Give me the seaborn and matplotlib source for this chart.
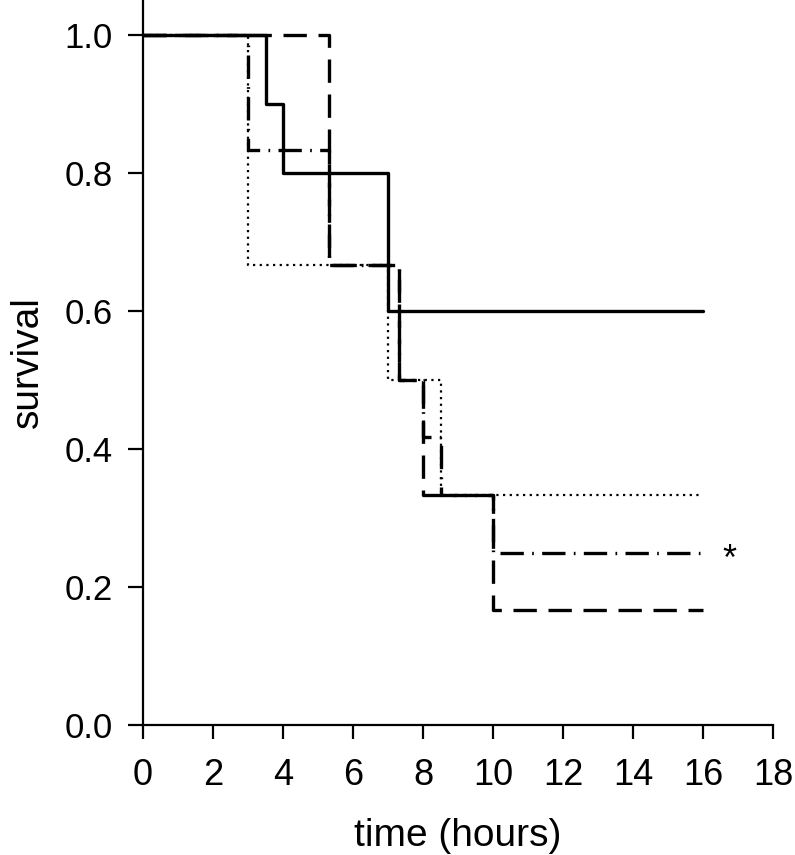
import matplotlib
matplotlib.use("Agg")
import matplotlib.pyplot as plt
import seaborn as sns

# survival step curves (time in hours, survival fraction)
solid_t = [0, 3.5, 4, 7, 16]
solid_s = [1.0, 0.9, 0.8, 0.6, 0.6]
longdash_t = [0, 5.3, 7.3, 8, 10, 16]
longdash_s = [1.0, 0.667, 0.5, 0.333, 0.167, 0.167]
dashdot_t = [0, 3, 5.3, 7.3, 8, 8.5, 10, 16]
dashdot_s = [1.0, 0.833, 0.667, 0.5, 0.417, 0.333, 0.25, 0.25]
dotted_t = [0, 3, 7, 8.5, 16]
dotted_s = [1.0, 0.667, 0.5, 0.333, 0.333]

xticks = [0, 2, 4, 6, 8, 10, 12, 14, 16, 18]
yticks = [0.0, 0.2, 0.4, 0.6, 0.8, 1.0]

sns.set_style("ticks")
plt.rcParams['font.family'] = ['Liberation Sans', 'DejaVu Sans']
plt.rcParams['text.color'] = 'black'
plt.rcParams['axes.labelcolor'] = 'black'
plt.rcParams['xtick.color'] = 'black'
plt.rcParams['ytick.color'] = 'black'

fig = plt.figure(figsize=(7.95, 8.55), dpi=100)
ax = fig.add_axes([0.1799, 0.152, 0.7925, 0.848])

sns.lineplot(x=dotted_t, y=dotted_s, drawstyle='steps-post', color='black',
             lw=1.6, estimator=None, ax=ax, linestyle=(0, (1, 2)))
sns.lineplot(x=longdash_t, y=longdash_s, drawstyle='steps-post', color='black',
             lw=2.4, estimator=None, ax=ax, linestyle=(0, (7, 3.5)))
sns.lineplot(x=dashdot_t, y=dashdot_s, drawstyle='steps-post', color='black',
             lw=2.4, estimator=None, ax=ax, linestyle=(0, (7, 2.5, 0.5, 2.5)))
sns.lineplot(x=solid_t, y=solid_s, drawstyle='steps-post', color='black',
             lw=2.4, estimator=None, ax=ax)

ax.text(16.75, 0.238, '*', fontsize=26, ha='center', va='center')

ax.set_xlim(0, 18)
ax.set_ylim(0, 1.051)
ax.set_xticks(xticks)
ax.set_yticks(yticks)
ax.set_xticklabels([str(t) for t in xticks], fontsize=26)
ax.set_yticklabels(['%.1f' % t for t in yticks], fontsize=25)
ax.tick_params(axis='x', direction='out', length=10, width=1.6, pad=14)
ax.tick_params(axis='y', direction='out', length=11, width=1.6, pad=11)
for s in ['left', 'bottom']:
    ax.spines[s].set_linewidth(1.6)
    ax.spines[s].set_color('black')
sns.despine(ax=ax)
ax.set_xlabel('time (hours)', fontsize=28, labelpad=18)
ax.set_ylabel('survival', fontsize=28, labelpad=13)

fig.savefig('out.png', dpi=100)
